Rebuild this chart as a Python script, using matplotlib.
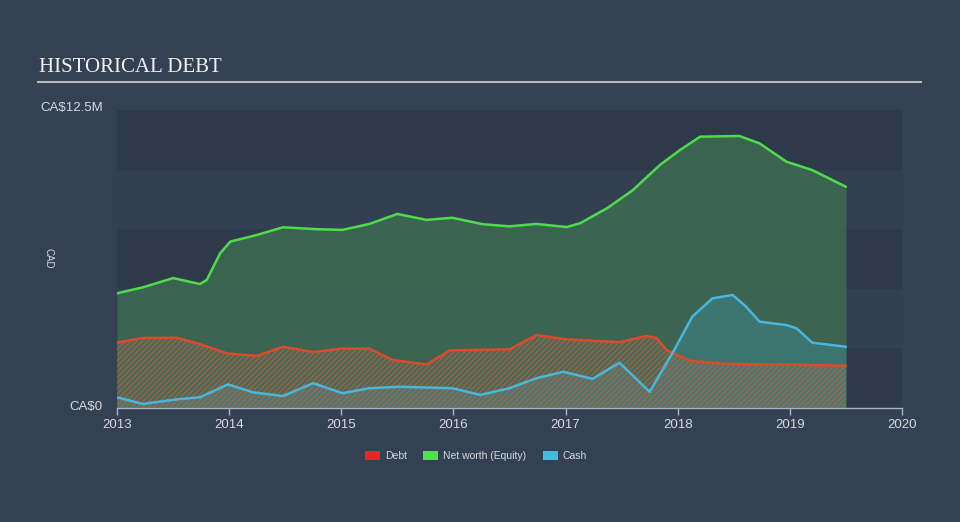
import matplotlib
matplotlib.use("Agg")
import matplotlib.pyplot as plt
from matplotlib.patches import Patch

# ---- data (CA$ millions, decimal years) ----
equity_dates = [2013.00, 2013.23, 2013.50, 2013.74, 2013.80, 2013.86, 2013.92, 2014.01, 2014.19,
                2014.27, 2014.48, 2014.78, 2015.01, 2015.25, 2015.50, 2015.76, 2015.99, 2016.26,
                2016.50, 2016.74, 2017.01, 2017.13, 2017.37, 2017.60, 2017.84, 2018.02, 2018.20,
                2018.55, 2018.73, 2018.97, 2019.20, 2019.50]
equity_vals = [4.81, 5.06, 5.45, 5.20, 5.37, 5.93, 6.49, 6.98, 7.19,
               7.29, 7.58, 7.50, 7.47, 7.72, 8.14, 7.89, 7.98, 7.71,
               7.62, 7.72, 7.59, 7.75, 8.38, 9.14, 10.19, 10.82, 11.38,
               11.41, 11.10, 10.33, 9.98, 9.28]

debt_dates = [2013.00, 2013.23, 2013.53, 2013.74, 2013.98, 2014.25, 2014.48, 2014.75, 2015.01,
              2015.25, 2015.46, 2015.76, 2015.97, 2016.50, 2016.74, 2017.01, 2017.48, 2017.72,
              2017.81, 2017.90, 2018.11, 2018.44, 2019.03, 2019.50]
debt_vals = [2.74, 2.94, 2.95, 2.68, 2.29, 2.19, 2.57, 2.35, 2.49,
             2.49, 2.01, 1.83, 2.42, 2.46, 3.06, 2.88, 2.76, 3.02,
             2.94, 2.43, 1.98, 1.85, 1.82, 1.77]

cash_dates = [2013.00, 2013.23, 2013.53, 2013.74, 2013.99, 2014.21, 2014.48, 2014.75, 2015.01,
              2015.25, 2015.52, 2015.99, 2016.24, 2016.50, 2016.74, 2016.98, 2017.24, 2017.48,
              2017.75, 2017.96, 2018.13, 2018.31, 2018.49, 2018.61, 2018.73, 2018.97, 2019.06,
              2019.20, 2019.50]
cash_vals = [0.45, 0.17, 0.36, 0.45, 0.99, 0.66, 0.50, 1.04, 0.62,
             0.83, 0.89, 0.83, 0.55, 0.83, 1.25, 1.52, 1.22, 1.90,
             0.68, 2.36, 3.83, 4.60, 4.74, 4.25, 3.62, 3.48, 3.34,
             2.74, 2.57]

year_ticks = [2013, 2014, 2015, 2016, 2017, 2018, 2019, 2020]
y_max = 12.5
y_labels = ["CA$0", "CA$12.5M"]
legend_labels = ["Debt", "Net worth (Equity)", "Cash"]

# ---- style ----
FIG_BG = "#344153"
BAND_DARK = "#2e3a4a"
BAND_LIGHT = "#334052"
TEXT = "#d5d9de"
plt.rcParams['font.family'] = ['Liberation Sans', 'DejaVu Sans']
plt.rcParams['hatch.linewidth'] = 0.75

fig = plt.figure(figsize=(9.6, 5.22), dpi=100, facecolor=FIG_BG)
ax = fig.add_axes([117/960, (522-408)/522, 785/960, 298/522])
ax.set_facecolor(BAND_DARK)
ax.set_xlim(2013, 2020)
ax.set_ylim(0, y_max)

# alternating bands
for i in range(5):
    ax.axhspan(i*2.5, (i+1)*2.5, color=BAND_DARK if i % 2 == 0 else BAND_LIGHT, lw=0, zorder=0)

# equity
ax.fill_between(equity_dates, 0, equity_vals, color="#3d6e52", alpha=0.82, lw=0, zorder=1)
# cash
ax.fill_between(cash_dates, 0, cash_vals, color="#3f8286", alpha=0.6, lw=0, zorder=2)
# debt hatch
ax.fill_between(debt_dates, 0, debt_vals, facecolor="#7a7a6a", alpha=0.3, lw=0, zorder=3)
ax.fill_between(debt_dates, 0, debt_vals, facecolor="none", edgecolor="#c8603c",
                hatch="//////", lw=0, zorder=3, alpha=0.8)

ax.plot(equity_dates, equity_vals, color="#4fdc4a", lw=1.8, zorder=5, solid_capstyle='round',
        solid_joinstyle='round')
ax.plot(debt_dates, debt_vals, color="#dc4a2a", lw=1.8, zorder=5, solid_capstyle='round',
        solid_joinstyle='round')
ax.plot(cash_dates, cash_vals, color="#4ab6dc", lw=1.8, zorder=5, solid_capstyle='round',
        solid_joinstyle='round')

# axes styling
for s in ['top', 'right', 'left']:
    ax.spines[s].set_visible(False)
ax.spines['bottom'].set_color("#aab3bd")
ax.spines['bottom'].set_linewidth(1.0)
ax.set_xticks(year_ticks)
ax.set_xticklabels([str(y) for y in year_ticks])
ax.tick_params(axis='x', colors="#aab3bd", length=5, width=1, labelcolor=TEXT, labelsize=9.5, pad=3)
ax.set_yticks([])

fig.text(103/960, 1-407/522, y_labels[0], color=TEXT, fontsize=9.5, ha='right', va='center')
fig.text(103/960, 1-108/522, y_labels[1], color=TEXT, fontsize=9.5, ha='right', va='center')
fig.text(48/960, 1-258/522, "CAD", color=TEXT, fontsize=7, ha='center', va='center', rotation=270)

# title
fig.text(39/960, 1-67/522, "HISTORICAL DEBT", color="#f0f0f0", fontsize=15,
         family=['Liberation Serif', 'DejaVu Serif'], ha='left', va='center')
fig.add_artist(plt.Line2D([38/960, 921/960], [1-82/522, 1-82/522], color="#b4b9c0", lw=1.5))

# legend
handles = [Patch(facecolor="#e5272a", edgecolor="none"),
           Patch(facecolor="#4ee04e", edgecolor="none"),
           Patch(facecolor="#47b8e0", edgecolor="none")]
leg = fig.legend(handles, legend_labels, loc='center', bbox_to_anchor=(476/960, 1-456/522),
                 ncol=3, frameon=False, fontsize=7.5, handlelength=1.4, handleheight=0.9,
                 columnspacing=1.6, handletextpad=0.5)
for t in leg.get_texts():
    t.set_color(TEXT)

fig.savefig("out.png", dpi=100, facecolor=FIG_BG)
